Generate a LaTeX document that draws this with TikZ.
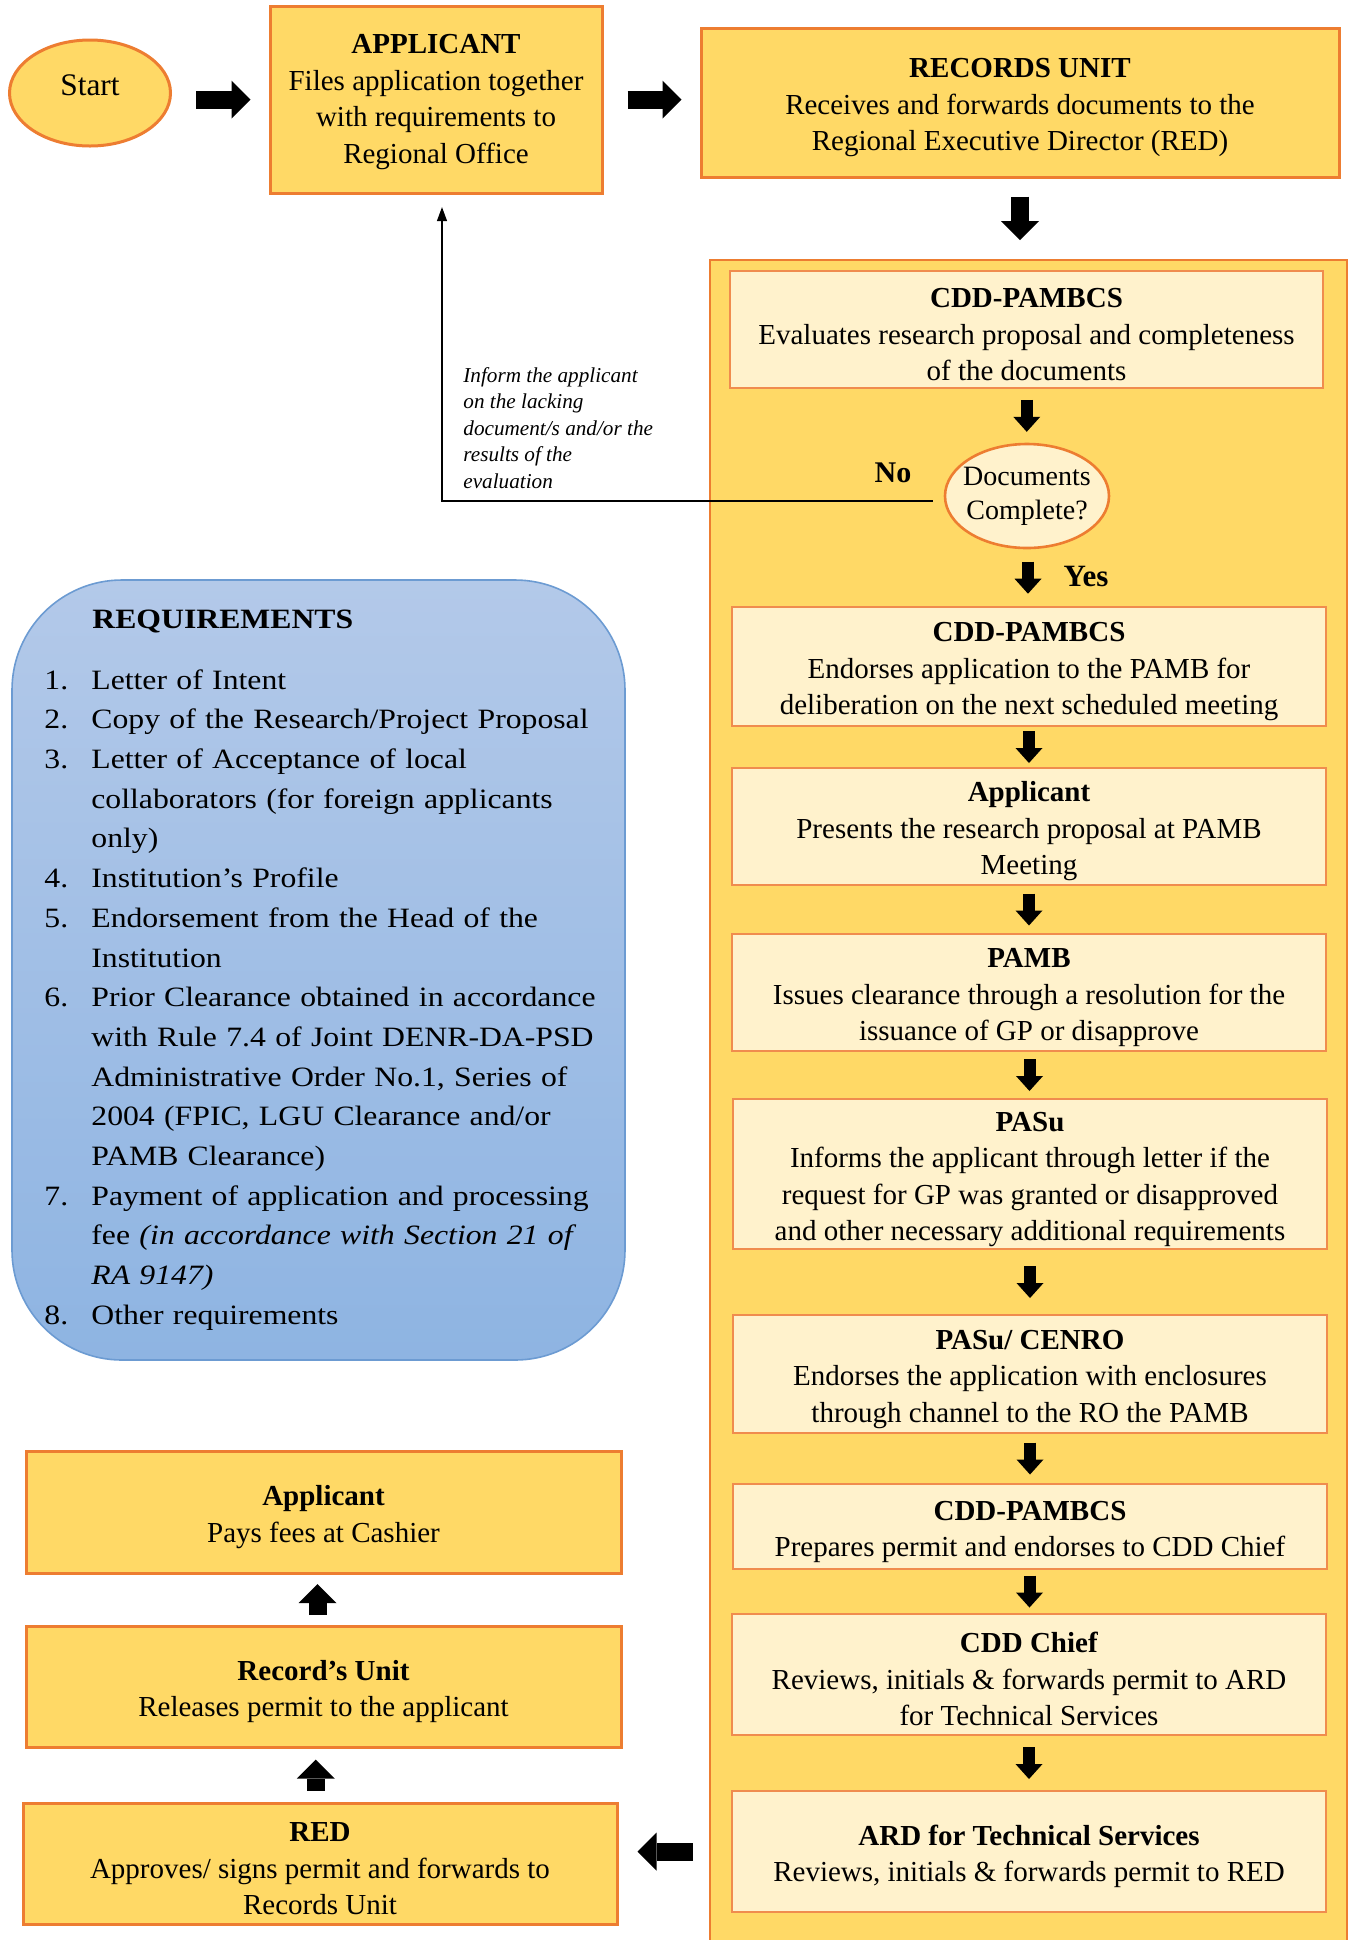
\documentclass[tikz,border=0pt]{standalone}
\usepackage{fontspec}
\setmainfont{Liberation Serif}
\newfontfamily\reqfont[FakeStretch=1.133]{Liberation Serif}
\usetikzlibrary{shapes.geometric,arrows.meta,calc}

\definecolor{boxgold}{HTML}{FFD966}
\definecolor{boxedge}{HTML}{ED7D31}
\definecolor{inneredge}{HTML}{F08C4E}
\definecolor{boxpale}{HTML}{FFF2CC}
\definecolor{reqtop}{HTML}{B3C9E9}
\definecolor{reqbot}{HTML}{8EB4E2}
\definecolor{reqedge}{HTML}{6C9BD2}

\newcommand{\boxfont}{\fontsize{14.5}{18.25}\selectfont}
\newcommand{\boxhead}[1]{\rule{0pt}{15pt}\textbf{#1}}
\newcommand{\reqsize}{\fontsize{14}{19.85}\selectfont}
\newcommand{\reqitem}[2]{\hangindent=23.5pt\hangafter=1\noindent\makebox[23.5pt][l]{#1}#2\par}

\tikzset{
  stepbox/.style={rectangle, draw=boxedge, line width=1.5pt, fill=boxgold,
    align=center, font=\boxfont, inner sep=0pt, minimum width=297pt},
  innerbox/.style={stepbox, fill=boxpale, line width=0.9pt, draw=inneredge},
  bigarrow/.style={line width=9pt, -{Triangle[width=19pt,length=9.5pt,line width=0pt]}},
  smallarrow/.style={line width=6pt, -{Triangle[width=13.5pt,length=7.5pt,line width=0pt]}},
}

\begin{document}
\begin{tikzpicture}[x=0.5pt,y=-0.5pt]
  \useasboundingbox (0,0) rectangle (1353,1940);

  % top row
  \node[ellipse, draw=boxedge, line width=1.5pt, fill=boxgold, minimum width=80.5pt,
    minimum height=53pt, text depth=7.5pt, font=\fontsize{15.7}{18}\selectfont] (start) at (90,93) {Start};
  \node[stepbox, minimum width=166pt, minimum height=93.5pt] (app) at (436,99.5)
    {\rule{0pt}{12pt}\textbf{APPLICANT}\\Files application together\\with requirements to\\Regional Office};
  \node[stepbox, minimum width=319pt, minimum height=74.5pt] (rec) at (1020,102.5)
    {\boxhead{RECORDS UNIT}\\Receives and forwards documents to the\\Regional Executive Director (RED)};

  % right column
  \node[rectangle, draw=boxedge, line width=1pt, fill=boxgold, inner sep=0pt,
    minimum width=318.5pt, minimum height=845pt] (panel) at (1028.5,1105) {};
  \node[innerbox, minimum width=296.5pt, minimum height=58.5pt] (cdd1) at (1026.5,329.5)
    {\boxhead{CDD-PAMBCS}\\Evaluates research proposal and completeness\\of the documents};
  \node[ellipse, draw=boxedge, line width=1.3pt, fill=boxpale, inner xsep=-3pt, inner ysep=0pt,
    minimum width=82pt, minimum height=52pt, align=center,
    font=\fontsize{14}{17}\selectfont] (dec) at (1027,496) {Documents\\Complete?};
  \node[innerbox, minimum height=59.5pt] (cdd2) at (1029,666.5)
    {\boxhead{CDD-PAMBCS}\\Endorses application to the PAMB for\\deliberation on the next scheduled meeting};
  \node[innerbox, minimum height=58.5pt] (pres) at (1029,826.5)
    {\boxhead{Applicant}\\Presents the research proposal at PAMB\\Meeting};
  \node[innerbox, minimum height=58.5pt] (pamb) at (1029,992.5)
    {\boxhead{PAMB}\\Issues clearance through a resolution for the\\issuance of GP or disapprove};
  \node[innerbox, minimum height=75pt] (pasu) at (1030,1174)
    {\boxhead{PASu}\\Informs the applicant through letter if the\\request for GP was granted or disapproved\\and other necessary additional requirements};
  \node[innerbox, minimum height=59pt] (cenro) at (1030,1374)
    {\boxhead{PASu/ CENRO}\\Endorses the application with enclosures\\through channel to the RO the PAMB};
  \node[innerbox, minimum height=42.5pt] (cdd3) at (1030,1526.5)
    {\boxhead{CDD-PAMBCS}\\Prepares permit and endorses to CDD Chief};
  \node[innerbox, minimum height=60.5pt] (chief) at (1029,1674.5)
    {\boxhead{CDD Chief}\\Reviews, initials \& forwards permit to ARD\\for Technical Services};
  \node[innerbox, minimum height=60.5pt] (ard) at (1029,1851.5)
    {\boxhead{ARD for Technical Services}\\Reviews, initials \& forwards permit to RED};

  % left column
  \node[stepbox, minimum height=60.5pt] (red) at (320,1863.5)
    {\boxhead{RED}\\Approves/ signs permit and forwards to\\Records Unit};
  \node[stepbox, minimum width=297.5pt, minimum height=60.5pt] (relu) at (323.5,1686.5)
    {\boxhead{Record’s Unit}\\Releases permit to the applicant};
  \node[stepbox, minimum width=297.5pt, minimum height=61pt] (pay) at (323.5,1512)
    {\boxhead{Applicant}\\Pays fees at Cashier};

  % requirements
  \node[rectangle, rounded corners=55pt, draw=reqedge, line width=0.8pt,
    top color=reqtop, bottom color=reqbot, minimum width=306.5pt,
    minimum height=390pt] (req) at (318.5,970) {};
  \node[anchor=west, inner sep=0pt, font=\reqfont\bfseries\reqsize] (reqtitle) at (92,621.5)
    {REQUIREMENTS};
  \node[anchor=north west, inner sep=0pt, text width=300pt, align=left,
    font=\reqfont\reqsize] (reqlist) at (44,669) {%
    \reqitem{1.}{Letter of Intent}
    \reqitem{2.}{Copy of the Research/Project Proposal}
    \reqitem{3.}{Letter of Acceptance of local\newline collaborators (for foreign applicants\newline only)}
    \reqitem{4.}{Institution’s Profile}
    \reqitem{5.}{Endorsement from the Head of the\newline Institution}
    \reqitem{6.}{Prior Clearance obtained in accordance\newline with Rule 7.4 of Joint DENR-DA-PSD\newline Administrative Order No.1, Series of\newline 2004 (FPIC, LGU Clearance and/or\newline PAMB Clearance)}
    \reqitem{7.}{Payment of application and processing\newline fee \textit{(in accordance with Section 21 of\newline RA 9147)}}
    \reqitem{8.}{Other requirements}};

  % labels
  \node[anchor=north west, inner sep=0pt, align=left,
    font=\itshape\fontsize{10.6}{13.25}\selectfont] (note) at (463,367)
    {Inform the applicant\\on the lacking\\document/s and/or the\\results of the\\evaluation};
  \node[font=\bfseries\fontsize{15}{18}\selectfont] (no) at (893,473) {No};
  \node[font=\bfseries\fontsize{15.5}{18}\selectfont] (yes) at (1086,576) {Yes};

  % connectors
  \draw[bigarrow, shorten <=12pt, shorten >=9pt] (start.east |- app.west) -- (app.west);
  \draw[bigarrow, shorten <=12pt, shorten >=9pt] (app.east) -- (app.east -| rec.west);
  \draw[bigarrow, shorten <=9pt, shorten >=9.5pt] (rec.south) -- (rec.south |- panel.north);
  \foreach \a/\b in {cdd1/dec, dec/cdd2, cdd2/pres, pres/pamb, pamb/pasu,
      pasu/cenro, cenro/cdd3, cdd3/chief, chief/ard}
    \draw[smallarrow] ($(\a.south)!.5!(\b.north)+(0,-16)$) -- ($(\a.south)!.5!(\b.north)+(0,16)$);
  \draw[bigarrow, shorten <=19pt, shorten >=9.5pt] (ard.west) -- (ard.west -| red.east);
  \foreach \a/\b in {red/relu, relu/pay}
    \draw[bigarrow] ($(\a.north)!.5!(\b.south)+(-6,15.5)$) -- ($(\a.north)!.5!(\b.south)+(-6,-15.5)$);
  \draw[line width=0.6pt, -{Triangle[width=5pt,length=7pt]}, shorten <=5.5pt, shorten >=6.3pt]
    ([yshift=-2.5pt]dec.west) -| ([xshift=3pt]app.south);
\end{tikzpicture}
\end{document}
